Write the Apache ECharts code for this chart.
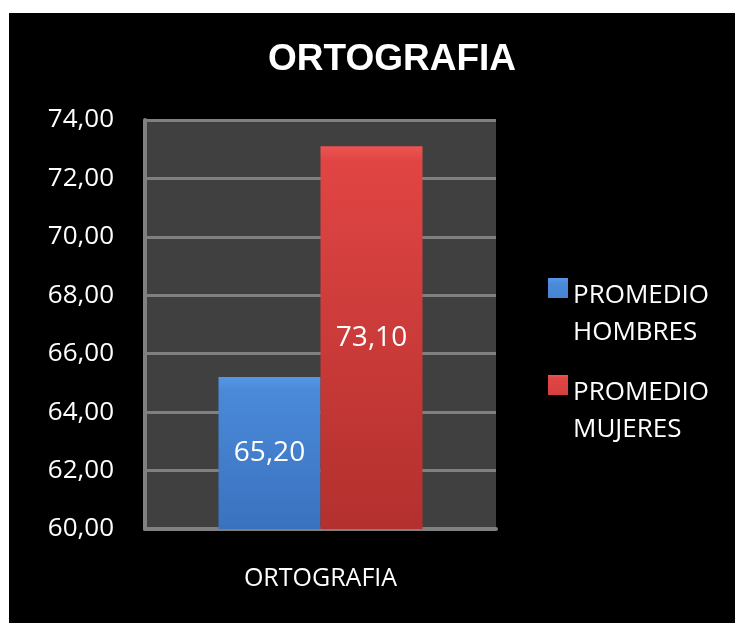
<!DOCTYPE html>
<html>
<head>
<meta charset="utf-8">
<script src="https://cdn.jsdelivr.net/npm/echarts@6/dist/echarts.min.js"></script>
<style>
  html, body { margin: 0; padding: 0; background: #fff; }
  #chart { position: absolute; left: 9px; top: 13px; width: 726px; height: 610px; background: #000; }
</style>
</head>
<body>
<div id="chart"></div>
<script>
// datos del grafico
var categorias = ['ORTOGRAFIA'];
var series = ['PROMEDIO HOMBRES', 'PROMEDIO MUJERES'];
var hombres = [65.2];
var mujeres = [73.1];
var ejeMin = 60, ejeMax = 74, ejePaso = 2;

function coma(v) {
    return Number(v).toFixed(2).replace('.', ',');
}

var myChart = echarts.init(document.getElementById('chart'));

// icono cuadrado arriba, alineado con la primera linea del texto
var icono = 'path://M0,0h20v20h-20z M0,72h0.01v0.01h-0.01z';

var azul = new echarts.graphic.LinearGradient(0, 0, 0, 1, [
    {offset: 0, color: '#5597e6'},
    {offset: 0.08, color: '#4a8ad9'},
    {offset: 1, color: '#3a72bf'}
]);
var rojo = new echarts.graphic.LinearGradient(0, 0, 0, 1, [
    {offset: 0, color: '#ec5452'},
    {offset: 0.04, color: '#e04543'},
    {offset: 1, color: '#b3302e'}
]);

var option = {
    backgroundColor: '#000',
    title: {
        text: 'ORTOGRAFIA',
        left: 378,
        top: 23,
        textAlign: 'center',
        textStyle: {
            color: '#fff',
            fontSize: 37,
            fontWeight: 'bold',
            fontFamily: 'Liberation Sans'
        }
    },
    legend: {
        orient: 'vertical',
        left: 534,
        top: 259,
        itemWidth: 20,
        itemHeight: 72,
        itemGap: 23,
        data: [
            {name: series[0], icon: icono},
            {name: series[1], icon: icono}
        ],
        itemStyle: {borderWidth: 0},
        formatter: function (n) { return n.replace(' ', '\n'); },
        textStyle: {
            color: '#fff',
            fontSize: 26,
            lineHeight: 37,
            fontFamily: 'Open Sans'
        }
    },
    grid: {
        show: true,
        left: 136,
        top: 107,
        width: 351,
        height: 409,
        backgroundColor: '#404040',
        borderWidth: 0
    },
    xAxis: {
        type: 'category',
        data: categorias,
        axisLine: {lineStyle: {color: '#808080', width: 4}},
        axisTick: {show: false},
        axisLabel: {
            color: '#fff',
            fontSize: 25,
            margin: 37,
            fontFamily: 'Open Sans'
        }
    },
    yAxis: {
        type: 'value',
        min: ejeMin,
        max: ejeMax,
        interval: ejePaso,
        axisLine: {show: true, lineStyle: {color: '#808080', width: 4}},
        axisTick: {show: false},
        splitLine: {lineStyle: {color: '#808080', width: 3}},
        axisLabel: {
            color: '#fff',
            fontSize: 26,
            margin: 31,
            fontFamily: 'Open Sans',
            formatter: coma
        }
    },
    series: [
        {
            name: series[0],
            type: 'bar',
            data: hombres,
            barWidth: 102,
            barGap: '0%',
            itemStyle: {color: azul},
            label: {
                show: true,
                position: 'inside',
                color: '#fff',
                fontSize: 28,
                fontFamily: 'Open Sans',
                formatter: function (p) { return coma(p.value); }
            }
        },
        {
            name: series[1],
            type: 'bar',
            data: mujeres,
            barWidth: 102,
            itemStyle: {color: rojo},
            label: {
                show: true,
                position: 'inside',
                color: '#fff',
                fontSize: 28,
                fontFamily: 'Open Sans',
                formatter: function (p) { return coma(p.value); }
            }
        }
    ]
};

myChart.setOption(option);
</script>
</body>
</html>
